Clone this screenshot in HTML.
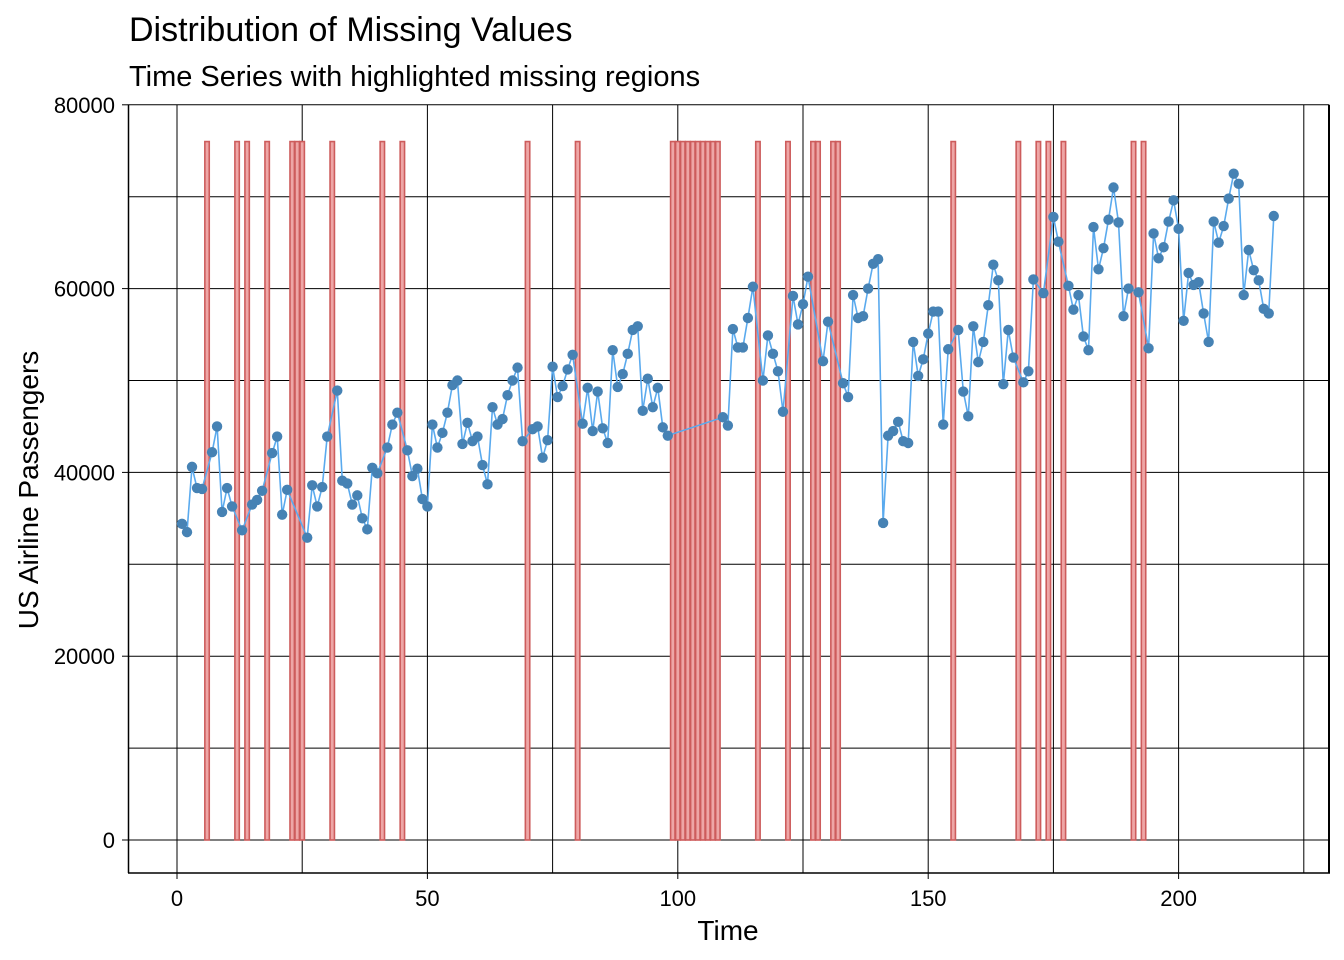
<!DOCTYPE html>
<html><head><meta charset="utf-8"><style>
body{margin:0;background:#fff;}
svg{display:block;font-family:"Liberation Sans",Arial,sans-serif;}
</style></head><body>
<svg id="chart" width="1344" height="960">
<text x="129" y="41" font-size="34" fill="#000">Distribution of Missing Values</text>
<text x="129" y="86" font-size="29" fill="#000">Time Series with highlighted missing regions</text>
<g id="grid"></g><g id="bars"></g><g id="series"></g><g id="axes"></g>
<text x="728" y="940" font-size="28" text-anchor="middle">Time</text>
<text transform="translate(38,490) rotate(-90)" font-size="28" text-anchor="middle">US Airline Passengers</text>
</svg>
<script>
const missing=[6,12,14,18,23,24,25,31,41,45,70,80,99,100,101,102,103,104,105,106,107,108,116,122,127,128,131,132,155,168,172,174,177,191,193];
const values=[34400,33500,40600,38300,38200,null,42200,45000,35700,38300,36300,null,33700,null,36500,37000,38000,null,42100,43900,
35400,38100,null,null,null,32900,38600,36300,38400,43900,null,48900,39100,38800,36500,37500,35000,33800,40500,39900,
null,42700,45200,46500,null,42400,39600,40400,37100,36300,45200,42700,44300,46500,49500,50000,43100,45400,43400,43900,
40800,38700,47100,45200,45800,48400,50000,51400,43400,null,44700,45000,41600,43500,51500,48200,49400,51200,52800,null,
45300,49200,44500,48800,44800,43200,53300,49300,50700,52900,55500,55900,46700,50200,47100,49200,44900,44000,null,null,
null,null,null,null,null,null,null,null,46000,45100,55600,53600,53600,56800,60200,null,50000,54900,52900,51000,
46600,null,59200,56100,58300,61300,null,null,52100,56400,null,null,49700,48200,59300,56800,57000,60000,62700,63200,
34500,44000,44500,45500,43400,43200,54200,50500,52300,55100,57500,57500,45200,53400,null,55500,48800,46100,55900,52000,
54200,58200,62600,60900,49600,55500,52500,null,49800,51000,61000,null,59500,null,67800,65100,null,60300,57700,59300,
54800,53300,66700,62100,64400,67500,71000,67200,57000,60000,null,59600,null,53500,66000,63300,64500,67300,69600,66500,
56500,61700,60400,60700,57300,54200,67300,65000,66800,69800,72500,71400,59300,64200,62000,60900,57800,57300,67900];
const xTicks=[0,50,100,150,200];
const yTicks=[0,20000,40000,60000,80000];
const barTop=76000;
const NS="http://www.w3.org/2000/svg";
const X=t=>177+t*5.008, Y=v=>840-v*0.00919;
function mk(tag,at,parent){const e=document.createElementNS(NS,tag);for(const k in at)e.setAttribute(k,at[k]);parent.appendChild(e);return e;}
const grid=document.getElementById('grid'),bars=document.getElementById('bars'),ser=document.getElementById('series'),axes=document.getElementById('axes');
for(let v=0;v<=80000;v+=10000){const l=mk('line',{x1:128,x2:1329,y1:Y(v),y2:Y(v),stroke:'#000','stroke-width':1},grid);

}
for(let t=0;t<=225;t+=25){const l=mk('line',{x1:X(t),x2:X(t),y1:Y(80000),y2:873,stroke:'#000','stroke-width':1},grid);

}
missing.forEach(t=>{const r=mk('rect',{x:X(t)-2.2,y:Y(barTop),width:4.4,height:Y(0)-Y(barTop),fill:'#eea6a6',stroke:'#cd5c5c','stroke-width':1.6},bars);

});
let d='';values.forEach((v,i)=>{if(v!=null)d+=(d?'L':'M')+X(i+1).toFixed(1)+','+Y(v).toFixed(1);});
const p=mk('path',{d:d,fill:'none',stroke:'#5aaaee','stroke-width':1.6},ser);


values.forEach((v,i)=>{if(v==null)return;const c=mk('circle',{cx:X(i+1),cy:Y(v),r:5.2,fill:'#4682b4'},ser);

});
const la=mk('line',{x1:128.5,x2:128.5,y1:Y(80000),y2:873,stroke:'#000','stroke-width':1.5},axes);


const ba=mk('line',{x1:128,x2:1330,y1:873,y2:873,stroke:'#000','stroke-width':1.5},axes);


const ra=mk('line',{x1:1329,x2:1329,y1:Y(80000),y2:873,stroke:'#000','stroke-width':2},axes);


yTicks.forEach(v=>{const tk=mk('line',{x1:122,x2:128,y1:Y(v),y2:Y(v),stroke:'#000'},axes);


const tx=mk('text',{x:115,y:Y(v)+8,'font-size':22,'text-anchor':'end'},axes);tx.textContent=v;

});
xTicks.forEach(t=>{const tk=mk('line',{x1:X(t),x2:X(t),y1:873,y2:879,stroke:'#000'},axes);


const tx=mk('text',{x:X(t),y:906,'font-size':22,'text-anchor':'middle'},axes);tx.textContent=t;

});
</script>
</body></html>
